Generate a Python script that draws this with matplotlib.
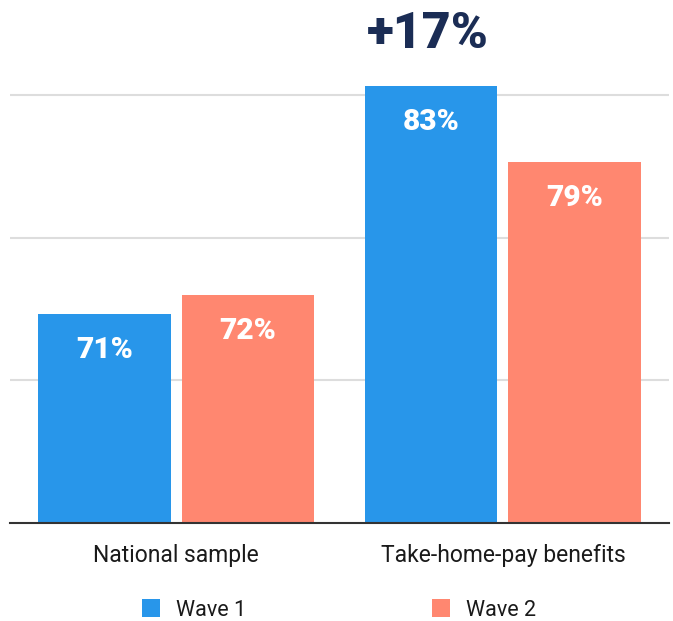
import numpy as np
import matplotlib
matplotlib.use("Agg")
import matplotlib.pyplot as plt

# data
groups = ["National sample", "Take-home-pay benefits"]
wave1 = [71, 83]
wave2 = [72, 79]
series_names = ["Wave 1", "Wave 2"]
change_label = "+17%"

blue = "#2896EA"
salmon = "#FF8770"
navy = "#1B2D55"

plt.rcParams['font.family'] = ['Roboto', 'DejaVu Sans']

fig = plt.figure(figsize=(6.73, 6.21), dpi=100)
ax = fig.add_axes([10/673, 98/621, 659/673, 523/621])

x = np.arange(len(groups))
w = 0.404
off = 0.219
b1 = ax.bar(x - off, [v - 60 for v in wave1], w, bottom=60, color=blue, label=series_names[0], zorder=2)
b2 = ax.bar(x + off, [v - 60 for v in wave2], w, bottom=60, color=salmon, label=series_names[1], zorder=2)

for xs, vals in ((x - off, wave1), (x + off, wave2)):
    for xi, v in zip(xs, vals):
        ax.annotate(f"{v}%", (xi, v), xytext=(0, -31.7), textcoords="offset points",
                    ha="center", va="baseline", color="white", fontsize=21.5,
                    fontweight="black", zorder=3)

ax.text(x[1] - off - 0.01, 85.0, change_label, ha="center", va="baseline",
        color=navy, fontsize=36, fontweight="black")

ax.set_xlim(-0.508, 1.508)
ax.set_ylim(60, 87.5)
ax.set_yticks([67.5, 75, 82.5])
ax.yaxis.grid(True, color="#dddddd", linewidth=1.5, zorder=0)
ax.tick_params(axis="y", left=False, labelleft=False)
ax.set_xticks(x)
ax.set_xticklabels(groups, fontsize=16.5, color="#1a1a1a")
ax.tick_params(axis="x", length=0, pad=15)
for s in ("top", "right", "left"):
    ax.spines[s].set_visible(False)
ax.spines["bottom"].set_color("#333333")
ax.spines["bottom"].set_linewidth(1.5)
ax.spines["bottom"].set_zorder(4)

fig.legend(handles=[b1, b2], labels=series_names, loc="center left",
           bbox_to_anchor=(142/673, 1 - 610/621), frameon=False, ncol=2,
           fontsize=15.5, borderpad=0, borderaxespad=0, handlelength=0.85,
           handleheight=0.85, handletextpad=0.75, columnspacing=8.6,
           labelcolor="#1a1a1a")

fig.savefig("out.png", dpi=100)
